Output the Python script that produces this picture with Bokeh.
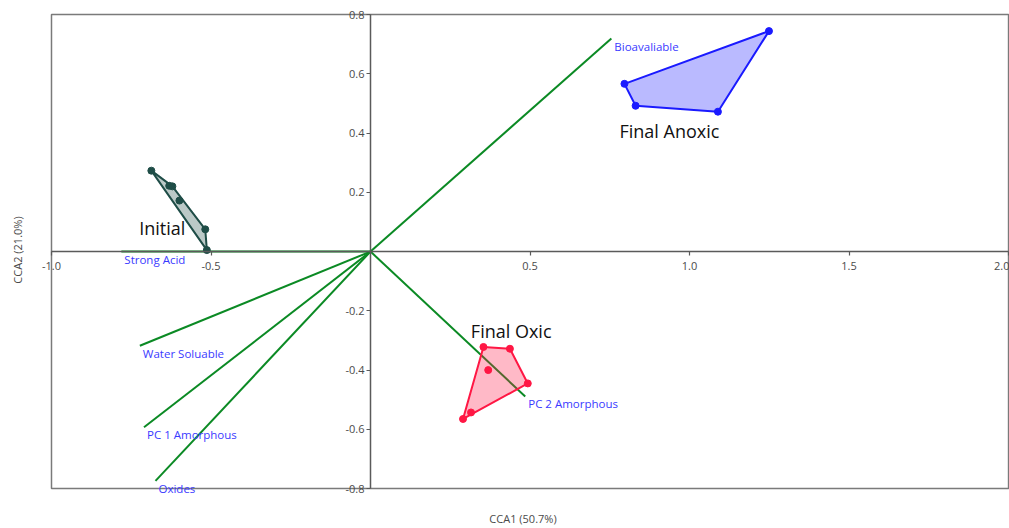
import numpy as np
from bokeh.plotting import figure
from bokeh.models import (FixedTicker, PrintfTickFormatter, LinearAxis,
                          ColumnDataSource, LabelSet, BoxAnnotation)
from bokeh.core.properties import value
from bokeh.embed import file_html
from bokeh.resources import INLINE

# Site scores (CCA1, CCA2)
initial_x = [-0.687, -0.631, -0.621, -0.599, -0.518, -0.513]
initial_y = [0.273, 0.222, 0.220, 0.172, 0.075, 0.005]
anoxic_x = [0.796, 0.831, 1.089, 1.249]
anoxic_y = [0.566, 0.492, 0.472, 0.744]
oxic_x = [0.354, 0.437, 0.493, 0.369, 0.315, 0.290]
oxic_y = [-0.322, -0.328, -0.445, -0.400, -0.543, -0.565]

group_names = ["Initial", "Final Anoxic", "Final Oxic"]
group_label_x = [-0.653, 0.937, 0.441]
group_label_y = [0.081, 0.408, -0.268]

# Environmental vectors
vector_names = ["Bioavaliable", "Strong Acid", "Water Soluable",
                "PC 1 Amorphous", "Oxides", "PC 2 Amorphous"]
vector_x = [0.755, -0.781, -0.723, -0.710, -0.674, 0.485]
vector_y = [0.719, 0.0, -0.318, -0.593, -0.774, -0.489]

x_ticks = [-1.0, -0.5, 0.5, 1.0, 1.5, 2.0]
y_ticks = [-0.8, -0.6, -0.4, -0.2, 0.2, 0.4, 0.6, 0.8]
x_bounds = (-1.0, 2.0)     # extent of the plotted box
y_bounds = (-0.8, 0.8)
x_title = "CCA1 (50.7%)"
y_title = "CCA2 (21.0%)"


def hull(xs, ys):
    pts = sorted(set(zip(xs, ys)))

    def cross(o, a, b):
        return (a[0] - o[0]) * (b[1] - o[1]) - (a[1] - o[1]) * (b[0] - o[0])

    lower = []
    for q in pts:
        while len(lower) >= 2 and cross(lower[-2], lower[-1], q) <= 0:
            lower.pop()
        lower.append(q)
    upper = []
    for q in reversed(pts):
        while len(upper) >= 2 and cross(upper[-2], upper[-1], q) <= 0:
            upper.pop()
        upper.append(q)
    h = lower[:-1] + upper[:-1]
    return [q[0] for q in h], [q[1] for q in h]


FONT = "Open Sans"
AX = "#5a5a5a"
TXT = "#4a4a4a"

# the frame is a little larger than the drawn box so that texts sitting on
# the box edge are not clipped
p = figure(width=1009, height=528, x_range=(-1.047, 2.003), y_range=(-0.830, 0.8405),
           output_backend="svg", toolbar_location=None,
           min_border_left=36, min_border_right=0, min_border_top=2,
           min_border_bottom=28)
p.grid.visible = False
p.outline_line_color = None
p.background_fill_color = "white"
p.border_fill_color = "white"

p.add_layout(BoxAnnotation(left=x_bounds[0], right=x_bounds[1],
                           bottom=y_bounds[0], top=y_bounds[1],
                           fill_color=None, fill_alpha=0,
                           line_color="#7a7a7a", line_alpha=1.0,
                           line_width=1.5, level="underlay"))

fmt = PrintfTickFormatter(format="%.1f")
xa = p.xaxis[0]
ya = p.yaxis[0]
for ax in (xa, ya):
    ax.fixed_location = 0
    ax.axis_line_color = AX
    ax.axis_line_width = 1.5
    ax.major_tick_line_color = AX
    ax.major_tick_line_width = 1.2
    ax.major_tick_in = 0
    ax.major_tick_out = 4
    ax.minor_tick_line_color = None
    ax.major_label_text_font = FONT
    ax.major_label_text_font_size = "11px"
    ax.major_label_text_color = TXT
    ax.formatter = fmt
xa.major_label_standoff = 6
ya.major_label_standoff = 2
xa.ticker = FixedTicker(ticks=x_ticks)
ya.ticker = FixedTicker(ticks=y_ticks)
xa.bounds = x_bounds
ya.bounds = y_bounds

# axis titles, carried by tick-less axes on the outer sides
for loc, label, standoff in (("below", x_title, 13), ("left", y_title, 12)):
    t_ax = LinearAxis(ticker=FixedTicker(ticks=[]), axis_label=label,
                      axis_line_color=None, major_tick_line_color=None,
                      minor_tick_line_color=None, major_tick_out=0,
                      major_label_text_font_size="0px",
                      axis_label_standoff=standoff,
                      axis_label_text_font=FONT,
                      axis_label_text_font_size="11px",
                      axis_label_text_font_style="normal",
                      axis_label_text_color=TXT)
    p.add_layout(t_ax, loc)

# vectors
p.segment(x0=[0] * len(vector_x), y0=[0] * len(vector_y), x1=vector_x, y1=vector_y,
          line_color="#0b8a24", line_width=2)
vsrc = ColumnDataSource(dict(x=vector_x, y=vector_y, name=vector_names))
p.add_layout(LabelSet(x="x", y="y", text="name", source=vsrc, text_align="left",
                      text_baseline="top", x_offset=3, y_offset=0,
                      text_font=value(FONT), text_font_size="11.5px",
                      text_color="#3a3aff"))

groups = [
    (initial_x, initial_y, "#1f4d47"),
    (anoxic_x, anoxic_y, "#1a1aff"),
    (oxic_x, oxic_y, "#ff1744"),
]
for gx, gy, col in groups:
    hx, hy = hull(gx, gy)
    p.patch(hx, hy, fill_color=col, fill_alpha=0.3, line_color=col, line_width=2)
    p.scatter(gx, gy, size=7, fill_color=col, line_color=col)

p.text(x=group_label_x, y=group_label_y, text=group_names, text_align="center",
       text_baseline="middle", text_font=value(FONT), text_font_size="18px",
       text_color="#111111")

open("out.html", "w").write(file_html(p, INLINE))
